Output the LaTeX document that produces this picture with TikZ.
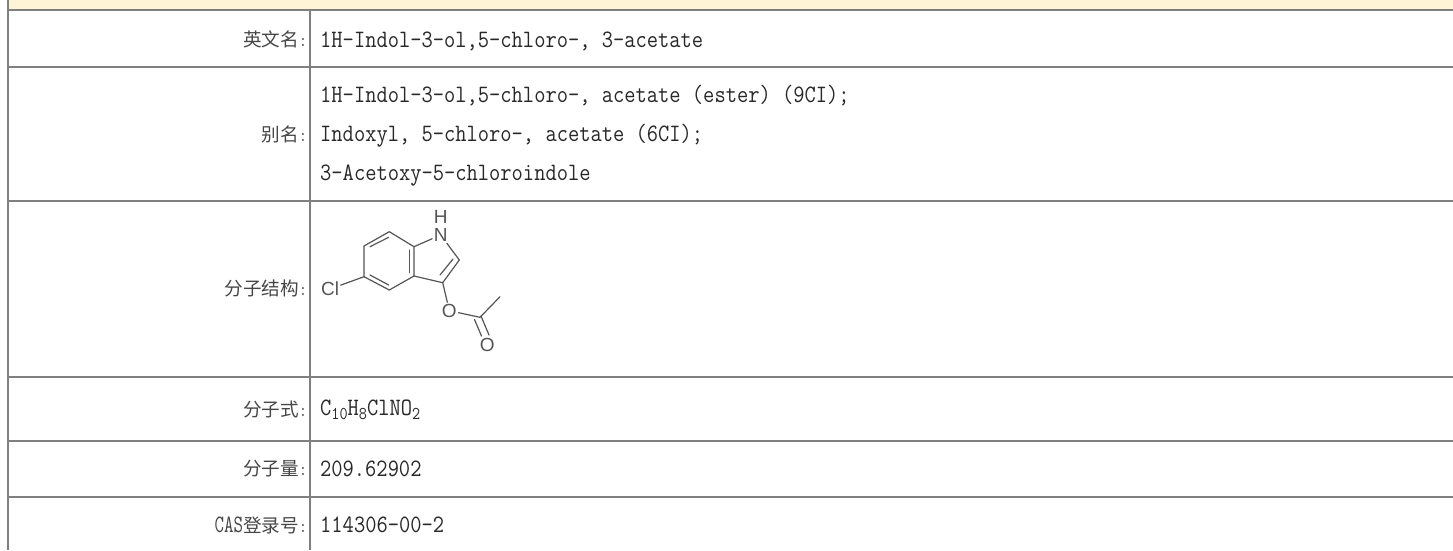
\documentclass[tikz,border=0pt]{standalone}
\usepackage{fontspec}
\newfontfamily\cjk{Noto Sans CJK SC}
\newfontfamily\atomfont{Liberation Sans}
\setmonofont[FakeStretch=0.875]{Latin Modern Mono}
\definecolor{rule}{RGB}{128,128,128}
\definecolor{band}{RGB}{255,244,214}
\definecolor{txt}{RGB}{40,40,40}
\definecolor{labtxt}{RGB}{70,70,70}
\definecolor{bond}{RGB}{85,85,85}
\newcommand{\lowered}[1]{\raisebox{-4.5pt}{\fontsize{18}{18}\selectfont #1}}
\newcommand{\lcolon}{{\ttfamily:}}
\tikzset{
 x=1pt,y=-1pt,
 grid/.style={draw=rule,line width=2pt},
 lab/.style={anchor=east,inner sep=0pt,text=labtxt,font=\cjk\fontsize{18.6}{18.6}\selectfont},
 val/.style={anchor=base west,inner sep=0pt,text=txt,font=\ttfamily\fontsize{25}{25}\selectfont},
 atom/.style={inner sep=1.5pt,text=bond,font=\atomfont\fontsize{19}{19}\selectfont},
 bondln/.style={draw=bond,line width=1.2pt,line cap=round}
}
\begin{document}
\begin{tikzpicture}
\useasboundingbox (0,0) rectangle (1453,550);
\fill[white] (0,0) rectangle (1453,550);
\fill[band] (8,0) rectangle (1453,9);
\draw[grid] (8,10) -- (1453,10);
\draw[grid] (8,0) -- (8,550);
\draw[grid] (310,10) -- (310,550);
\foreach \yy in {67,201,377,440.5,497} \draw[grid] (8,\yy) -- (1453,\yy);
\node[lab] (l1) at (307.5,39) {英文名\lcolon};
\node[lab] (l2) at (307.5,134) {别名\lcolon};
\node[lab] (l3) at (307.5,288) {分子结构\lcolon};
\node[lab] (l4) at (307.5,409) {分子式\lcolon};
\node[lab] (l5) at (307.5,469) {分子量\lcolon};
\node[lab] (l6) at (307.5,525) {\scalebox{0.84}[1]{\ttfamily\fontsize{25}{25}\selectfont CAS}登录号\lcolon};
\node[val] (v1) at (320,47.7) {1H-Indol-3-ol,5-chloro-, 3-acetate};
\node[val] (v2) at (320,102.7) {1H-Indol-3-ol,5-chloro-, acetate (ester) (9CI);};
\node[val] (v3) at (320,141.7) {Indoxyl, 5-chloro-, acetate (6CI);};
\node[val] (v4) at (320,180.7) {3-Acetoxy-5-chloroindole};
\node[val] (v5) at (320,415) {C\lowered{10}H\lowered{8}ClNO\lowered{2}};
\node[val] (v6) at (320,476.7) {209.62902};
\node[val] (v7) at (320,532.7) {114306-00-2};
\node[atom] (cl) at (330,289) {Cl};
\node[atom] (h) at (440.7,216.7) {H};
\node[atom] (n) at (440.7,235) {N};
\node[atom] (o1) at (449.3,310.7) {O};
\node[atom] (o2) at (487.3,345) {O};
\coordinate (c1) at (364,276.7);
\coordinate (c2) at (364,246);
\coordinate (c3) at (389.3,231.7);
\coordinate (c4) at (414,246.7);
\coordinate (c5) at (414,276);
\coordinate (c6) at (389.3,290);
\coordinate (c7) at (442.7,282.7);
\coordinate (c8) at (459.3,260);
\coordinate (c9) at (480,317.3);
\coordinate (c10) at (500,296.7);
\coordinate (d1) at (370,246.7);
\coordinate (d2) at (388.7,237.3);
\coordinate (d3) at (409.3,250);
\coordinate (d4) at (409.3,272.7);
\coordinate (d5) at (370,275);
\coordinate (d6) at (388.7,285);
\coordinate (d7) at (440,275);
\coordinate (d8) at (453,259);
\coordinate (d9) at (474.5,319.5);
\coordinate (d10) at (481.5,336);
\coordinate (d11) at (481,316);
\coordinate (d12) at (489,335);
\draw[bondln] (cl) -- (c1);
\draw[bondln] (c1) -- (c2) -- (c3) -- (c4) -- (c5) -- (c6) -- (c1);
\draw[bondln] (c4) -- (n);
\draw[bondln] (n) -- (c8);
\draw[bondln] (c8) -- (c7) -- (c5);
\draw[bondln] (c7) -- (o1);
\draw[bondln] (o1) -- (c9);
\draw[bondln] (c9) -- (c10);
\draw[bondln] (d1) -- (d2);
\draw[bondln] (d3) -- (d4);
\draw[bondln] (d5) -- (d6);
\draw[bondln] (d7) -- (d8);
\draw[bondln] (d9) -- (d10);
\draw[bondln] (d11) -- (d12);
\end{tikzpicture}
\end{document}
